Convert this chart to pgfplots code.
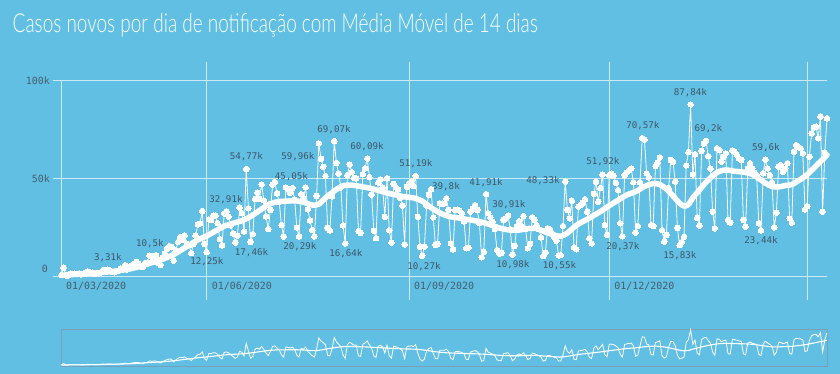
\documentclass[border=0pt]{standalone}
\usepackage{fontspec}
\usepackage{graphicx}
\usepackage{pgfplots}
\usepackage{pgfplotstable}
\pgfplotsset{compat=1.18}
\newfontfamily\monofont{DejaVu Sans Mono}
\newfontfamily\titlefont{Lato Light}
\definecolor{bgc}{RGB}{96,191,227}
\definecolor{gridc}{RGB}{205,233,245}
\definecolor{labc}{RGB}{64,86,102}
\definecolor{tickc}{RGB}{72,94,110}
\definecolor{navc}{RGB}{120,160,185}

\pgfplotstableread{
d v
-66 0.50
-65 4.20
-64 0.35
-63 0.32
-62 1.14
-61 1.12
-60 1.21
-59 1.01
-58 1.30
-57 0.77
-56 1.03
-55 1.87
-54 2.21
-53 1.93
-52 1.78
-51 1.09
-50 1.44
-49 1.26
-48 1.83
-47 3.06
-46 2.11
-45 3.31
-44 2.92
-43 2.06
-42 1.93
-41 2.50
-40 2.68
-39 3.74
-38 3.50
-37 5.51
-36 3.38
-35 4.61
-34 5.39
-33 6.28
-32 7.22
-31 6.21
-30 4.97
-29 4.59
-28 6.63
-27 6.94
-26 10.50
-25 9.89
-24 10.22
-23 10.61
-22 6.76
-21 5.63
-20 9.26
-19 11.39
-18 13.94
-17 15.31
-16 14.92
-15 7.94
-14 13.14
-13 17.41
-12 19.95
-11 18.51
-10 20.80
-9 16.51
-8 15.81
-7 11.69
-6 16.32
-5 20.60
-4 26.42
-3 26.93
-2 33.27
-1 16.41
0 12.25
1 28.94
2 28.63
3 30.93
4 30.83
5 27.08
6 18.91
7 15.65
8 32.09
9 32.91
10 30.41
11 25.98
12 21.70
13 17.11
14 20.65
15 34.92
16 32.19
17 22.77
18 54.77
19 34.67
20 17.46
21 21.43
22 39.44
23 42.73
24 39.48
25 46.91
26 38.69
27 30.48
28 24.05
29 33.85
30 46.71
31 48.11
32 42.22
33 37.92
34 26.05
35 20.23
36 45.31
37 44.57
38 42.62
39 45.05
40 39.02
41 24.83
42 20.29
43 41.86
44 39.92
45 45.40
46 34.18
47 28.53
48 23.53
49 20.26
50 41.01
51 67.86
52 59.96
53 55.89
54 51.15
55 24.58
56 23.28
57 40.82
58 69.07
59 57.84
60 52.38
61 45.39
62 25.80
63 16.64
64 51.60
65 57.15
66 53.14
67 50.23
68 49.97
69 23.01
70 22.05
71 52.16
72 55.16
73 60.09
74 50.64
75 41.58
76 23.10
77 19.37
78 47.78
79 49.30
80 45.32
81 30.36
82 50.03
83 23.42
84 17.08
85 47.13
86 45.50
87 44.24
88 40.00
89 36.00
90 16.16
91 45.70
92 47.40
93 48.30
94 46.00
95 51.19
96 30.30
97 15.00
98 10.27
99 15.00
100 36.00
101 41.50
102 44.40
103 30.00
104 15.90
105 16.40
106 37.20
107 37.00
108 37.20
109 39.80
110 33.80
111 16.70
112 13.70
113 33.80
114 34.00
115 33.40
116 32.00
117 28.00
118 14.20
119 14.50
120 32.90
121 34.60
122 36.30
123 33.80
124 27.00
125 9.60
126 12.40
127 41.91
128 32.10
129 30.00
130 27.80
131 24.00
132 13.30
133 11.50
134 11.80
135 28.70
136 29.50
137 30.91
138 24.00
139 10.98
140 15.40
141 25.20
142 28.00
143 25.60
144 30.70
145 24.00
146 14.20
147 16.40
148 30.00
149 28.70
150 26.00
151 24.00
152 19.80
153 10.20
154 11.90
155 24.40
156 24.00
157 22.00
158 20.00
159 18.00
160 10.55
161 10.70
162 25.60
163 48.33
164 33.80
165 29.50
166 38.50
167 14.70
168 13.70
169 35.50
170 36.30
171 37.50
172 39.30
173 32.90
174 19.30
175 16.70
176 42.00
177 48.30
178 38.00
179 45.00
180 51.92
181 26.10
182 21.00
183 51.70
184 52.50
185 51.20
186 47.70
187 44.00
188 27.00
189 20.37
190 51.70
191 53.00
192 54.20
193 55.10
194 48.00
195 22.20
196 25.60
197 48.00
198 70.57
199 69.80
200 52.60
201 50.50
202 26.10
203 25.60
204 56.30
205 58.00
206 60.70
207 23.50
208 17.60
209 21.00
210 45.00
211 59.40
212 58.50
213 48.30
214 24.60
215 15.83
216 17.34
217 20.00
218 56.60
219 63.40
220 87.84
221 52.00
222 62.30
223 29.80
224 25.80
225 64.00
226 67.80
227 69.20
228 61.30
229 55.00
230 33.00
231 24.40
232 65.40
233 64.50
234 58.50
235 61.00
236 62.80
237 28.70
238 27.30
239 64.10
240 63.60
241 62.00
242 60.20
243 59.40
244 28.70
245 25.20
246 55.10
247 57.70
248 55.00
249 53.00
250 51.70
251 27.00
252 23.44
253 52.60
254 59.60
255 55.10
256 51.70
257 48.00
258 24.90
259 32.40
260 55.90
261 56.80
262 53.40
263 55.00
264 57.70
265 29.50
266 27.30
267 63.60
268 67.00
269 66.00
270 65.40
271 62.80
272 34.10
273 35.80
274 61.00
275 73.00
276 76.10
277 76.40
278 70.50
279 81.50
280 32.90
281 63.10
282 80.70
}\daily

\pgfplotstableread{
d m
-66 0.4
-60 0.8
-55 1.1
-50 1.5
-45 2.1
-40 2.7
-35 3.6
-30 5.0
-25 6.8
-20 8.6
-15 11.0
-12 13.0
-8 15.8
-4 18.5
0 20.5
4 23.0
8 25.5
12 27.0
16 28.3
20 30.5
24 33.5
28 36.5
32 38.0
36 38.3
40 38.5
44 37.8
48 36.3
51 36.8
54 40.0
58 43.5
62 46.2
66 46.5
70 45.8
74 45.0
78 43.8
82 42.5
86 41.5
90 40.5
94 40.0
98 38.3
102 35.0
106 32.3
110 30.5
114 29.8
118 29.0
122 28.3
126 27.3
130 25.8
134 24.3
138 23.5
142 23.5
146 24.3
150 24.3
154 22.5
158 21.0
161 20.3
164 22.0
167 25.0
170 27.3
173 29.0
176 31.0
179 33.0
183 36.0
187 38.8
191 41.5
195 43.2
199 45.8
203 47.3
206 46.8
209 44.5
212 41.0
215 37.3
217 35.8
219 36.6
221 40.0
224 44.0
227 48.0
230 51.3
233 53.5
236 54.3
240 53.6
244 53.2
248 52.0
251 50.0
254 47.5
257 45.8
260 45.6
263 46.3
266 46.8
269 48.8
272 51.0
275 54.0
278 57.5
280 59.6
282 62.0
}\mavg

\tikzset{lab/.style={font=\monofont\fontsize{9.2}{11}\selectfont, text=labc, inner sep=0pt}}

\begin{document}
\begin{tikzpicture}
\useasboundingbox (0bp,0bp) rectangle (840bp,374bp);
\fill[bgc] (0bp,0bp) rectangle (840bp,374bp);
\node[anchor=base west, inner sep=0pt, text=white] at (12.5bp,341bp)
  {\resizebox{525bp}{19bp}{\titlefont Casos novos por dia de notificação com Média Móvel de 14 dias}};

\begin{axis}[
  at={(61bp,98bp)}, anchor=south west,
  scale only axis, width=766bp, height=214.9bp,
  xmin=-66.2, xmax=282, ymin=0, ymax=110,
  clip=false,
  axis line style={draw=none},
  major tick length=0pt,
  tick style={draw=none},
  xtick={-66.2,0,92,183},
  xticklabels={01/03/2020,01/06/2020,01/09/2020,01/12/2020},
  xticklabel style={anchor=west, inner sep=0pt, xshift=5bp, yshift=-10bp,
    font=\monofont\fontsize{10}{12}\selectfont, text=tickc},
  ytick={50,100},
  yticklabels={50k,100k},
  yticklabel style={anchor=east, inner sep=0pt, xshift=-11bp,
    font=\monofont\fontsize{10}{12}\selectfont, text=tickc},
]
\draw[gridc, line width=0.9bp] (axis cs:-69.8,0) -- (axis cs:282,0);
\draw[gridc, line width=0.9bp] (axis cs:-69.8,50) -- (axis cs:282,50);
\draw[gridc, line width=0.9bp] (axis cs:-69.8,100) -- (axis cs:282,100);
\draw[gridc, line width=0.9bp] (axis cs:-66.2,0) -- (axis cs:-66.2,100);
\draw[gridc, line width=0.9bp] (axis cs:0,-12.3) -- (axis cs:0,109.5);
\draw[gridc, line width=0.9bp] (axis cs:92,-12.3) -- (axis cs:92,109.5);
\draw[gridc, line width=0.9bp] (axis cs:183,-12.3) -- (axis cs:183,109.5);
\draw[gridc, line width=0.9bp] (axis cs:273,-12.3) -- (axis cs:273,109.5);
\node[anchor=east, inner sep=0pt, xshift=-13bp, yshift=7bp,
  font=\monofont\fontsize{10}{12}\selectfont, text=tickc] at (axis cs:-66.2,0) {0};

\addplot[white, line width=0.8bp, mark=*, mark size=2.8bp,
  mark options={solid, fill=white, draw=white, line width=0pt}]
  table[x=d, y=v] {\daily};
\addplot[white, line width=5.5bp, smooth, line cap=round, line join=round]
  table[x=d, y=m] {\mavg};

\node[lab] at (axis cs:-44.9,9.2) {3,31k};
\node[lab] at (axis cs:-25.8,16.4) {10,5k};
\node[lab] at (axis cs:0.1,7.2) {12,25k};
\node[lab] at (axis cs:8.8,38.9) {32,91k};
\node[lab] at (axis cs:18.1,60.9) {54,77k};
\node[lab] at (axis cs:20.4,11.8) {17,46k};
\node[lab] at (axis cs:41.5,60.9) {59,96k};
\node[lab] at (axis cs:38.5,50.7) {45,05k};
\node[lab] at (axis cs:42.4,14.8) {20,29k};
\node[lab] at (axis cs:57.9,74.7) {69,07k};
\node[lab] at (axis cs:63.3,11.3) {16,64k};
\node[lab] at (axis cs:72.9,66.0) {60,09k};
\node[lab] at (axis cs:95.1,57.3) {51,19k};
\node[lab] at (axis cs:98.8,4.6) {10,27k};
\node[lab] at (axis cs:108.8,45.5) {39,8k};
\node[lab] at (axis cs:127.0,47.6) {41,91k};
\node[lab] at (axis cs:137.4,36.3) {30,91k};
\node[lab] at (axis cs:139.2,5.6) {10,98k};
\node[lab] at (axis cs:152.9,48.6) {48,33k};
\node[lab] at (axis cs:160.4,5.1) {10,55k};
\node[lab] at (axis cs:180.1,58.3) {51,92k};
\node[lab] at (axis cs:189.2,14.8) {20,37k};
\node[lab] at (axis cs:198.3,76.8) {70,57k};
\node[lab] at (axis cs:215.1,10.2) {15,83k};
\node[lab] at (axis cs:219.9,93.7) {87,84k};
\node[lab] at (axis cs:228.1,75.2) {69,2k};
\node[lab] at (axis cs:254.2,65.5) {59,6k};
\node[lab] at (axis cs:252.0,17.9) {23,44k};
\end{axis}

\begin{axis}[
  at={(61bp,8bp)}, anchor=south west,
  scale only axis, width=766bp, height=37bp,
  xmin=-66.2, xmax=282, ymin=-2, ymax=90,
  hide axis, clip=false,
]
\draw[navc, line width=1bp] (rel axis cs:0,0) rectangle (rel axis cs:1,1);
\addplot[white, line width=0.8bp] table[x=d, y=v] {\daily};
\addplot[white, line width=1.1bp, smooth] table[x=d, y=m] {\mavg};
\end{axis}
\end{tikzpicture}
\end{document}
